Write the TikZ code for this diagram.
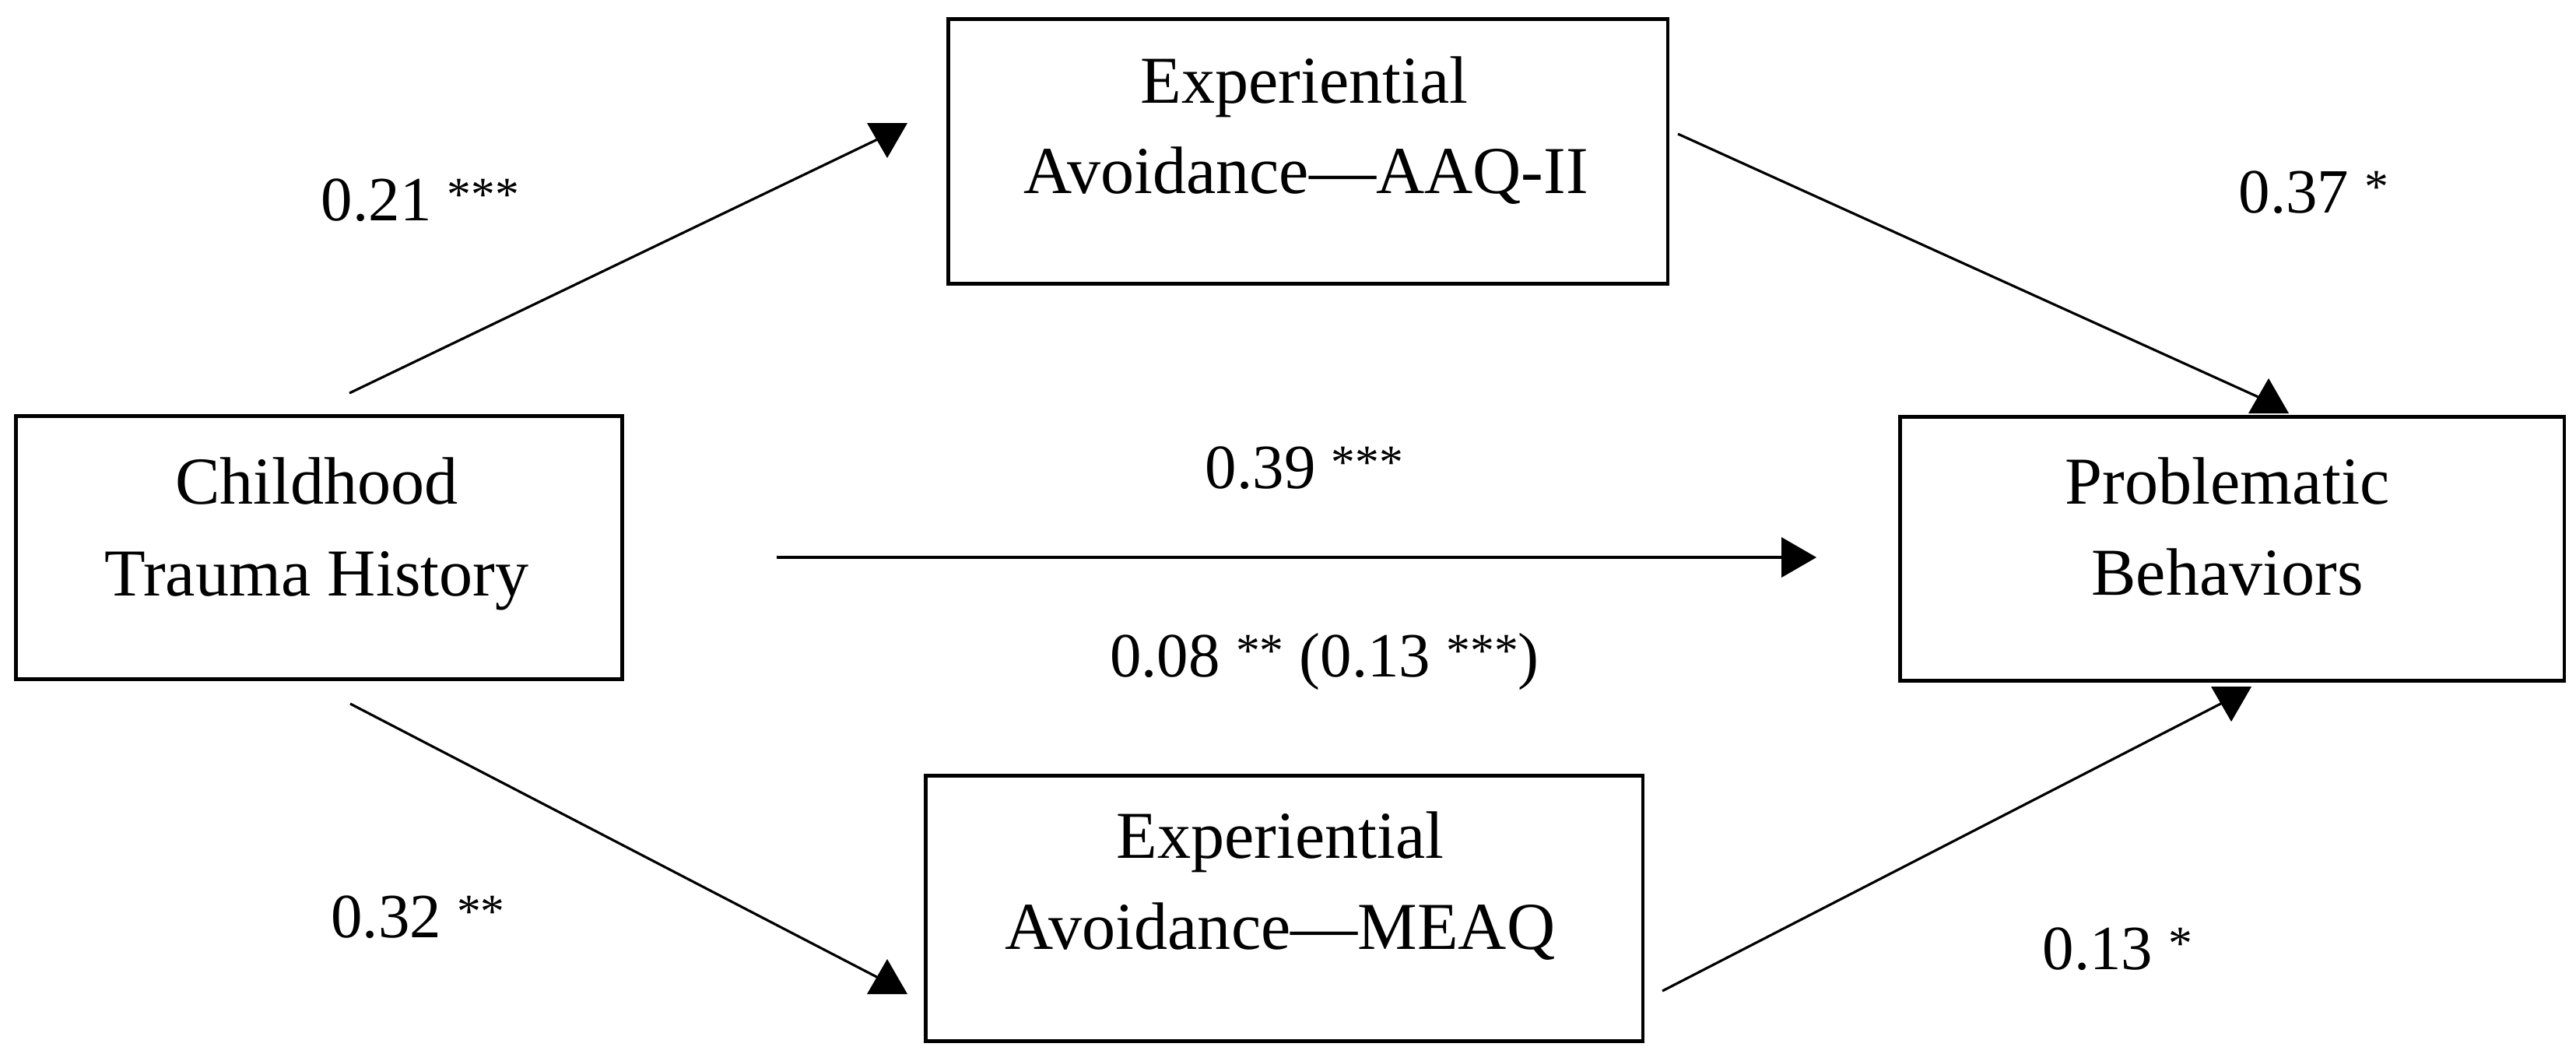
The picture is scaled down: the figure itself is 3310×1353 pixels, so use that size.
\documentclass[tikz,border=0pt]{standalone}
\usepackage{fontspec}
\setmainfont{Liberation Serif}
\usetikzlibrary{shapes.geometric}
\newcommand{\sigstars}[1]{\raisebox{3.6pt}{\fontsize{17.5}{20}\selectfont #1}}
\begin{document}
\begin{tikzpicture}[x=0.01cm,y=-0.01cm,
  box/.style={draw, line width=1.4pt, inner sep=0pt, anchor=north west},
  txt/.style={anchor=base, inner sep=0pt, font=\fontsize{24.5}{33}\selectfont},
  coef/.style={anchor=base, inner sep=0pt, font=\fontsize{23}{30}\selectfont},
  conn/.style={line width=0.9pt},
  mainconn/.style={line width=1.3pt},
  headbase/.style={fill=black, draw=none, regular polygon, regular polygon sides=3, minimum size=0.6cm, inner sep=0pt},
  headup/.style={headbase},
  headdown/.style={headbase, shape border rotate=180},
  headright/.style={headbase, shape border rotate=-90}]
\useasboundingbox (0,0) rectangle (3310,1353);

% boxes
\node[box, minimum width=7.79cm, minimum height=3.38cm] (cth) at (18,532) {};
\node[box, minimum width=9.24cm, minimum height=3.40cm] (aaq) at (1216,22) {};
\node[box, minimum width=8.53cm, minimum height=3.39cm] (pb) at (2439,533) {};
\node[box, minimum width=9.21cm, minimum height=3.41cm] (meaq) at (1187,994) {};

% box texts
\node[txt] (cthA) at (407,647) {Childhood};
\node[txt] (cthB) at (407,765) {Trauma History};
\node[txt] (aaqA) at (1676,132) {Experiential};
\node[txt] (aaqB) at (1678,248) {Avoidance—AAQ-II};
\node[txt] (pbA) at (2862,647) {Problematic};
\node[txt] (pbB) at (2862,764) {Behaviors};
\node[txt] (meaqA) at (1645,1102) {Experiential};
\node[txt] (meaqB) at (1645,1219) {Avoidance—MEAQ};

% arrow heads
\node[headdown] (h1) at (1140,173) {};
\node[headup] (h2) at (2915,516) {};
\node[headup] (h3) at (1140,1262) {};
\node[headdown] (h4) at (2867,897) {};
\node[headright] (h5) at (2304,716) {};

% connector start points
\coordinate (s1) at (449,505);
\coordinate (s2) at (2156,172);
\coordinate (s3) at (450,904);
\coordinate (s4) at (2136,1273);
\coordinate (s5) at (998,716);

\draw[conn] (s1) -- (h1.center);
\draw[conn] (s2) -- (h2.center);
\draw[conn] (s3) -- (h3.center);
\draw[conn] (s4) -- (h4.center);
\draw[mainconn] (s5) -- (h5.center);

% coefficient labels
\node[coef] (l1) at (540,283) {0.21 \sigstars{***}};
\node[coef] (l2) at (2973,273) {0.37 \sigstars{*}};
\node[coef] (l3) at (1676,627) {0.39 \sigstars{***}};
\node[coef] (l4) at (1702,869) {0.08 \sigstars{**} (0.13 \sigstars{***})};
\node[coef] (l5) at (537,1204) {0.32 \sigstars{**}};
\node[coef] (l6) at (2721,1245) {0.13 \sigstars{*}};
\end{tikzpicture}
\end{document}
